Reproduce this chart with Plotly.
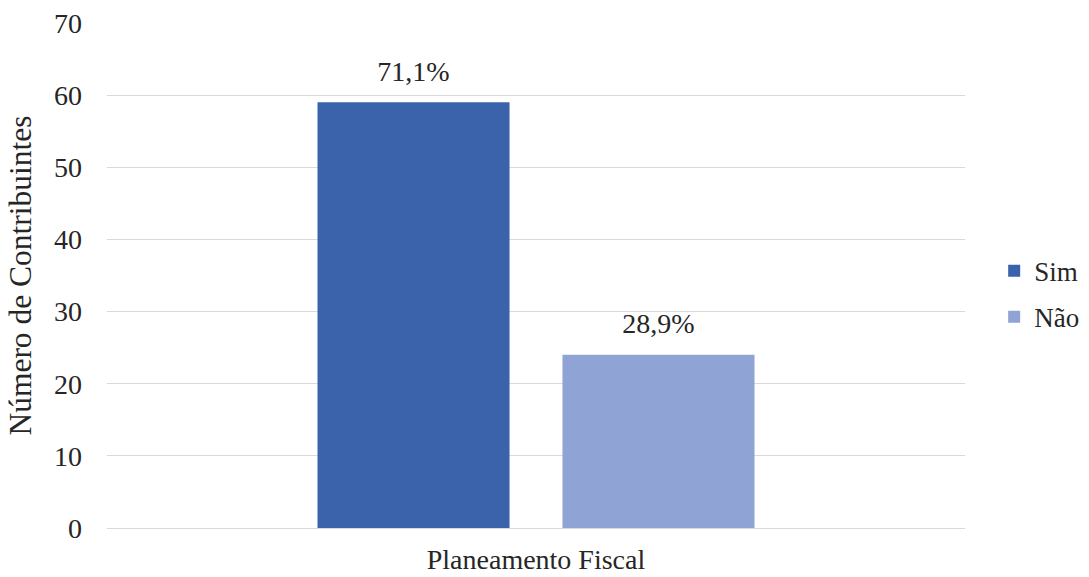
import plotly.graph_objects as go

categories = ["Planeamento Fiscal"]
series_names = ["Sim", "Não"]
series_values = [[59], [24]]
series_labels = ["71,1%", "28,9%"]
series_colors = ["#3A63AC", "#8FA4D5"]
y_ticks = [0, 10, 20, 30, 40, 50, 60, 70]

font_family = "Times New Roman, Liberation Serif, DejaVu Serif, serif"
text_color = "#262626"

fig = go.Figure()
for name, vals, col in zip(series_names, series_values, series_colors):
    fig.add_trace(go.Bar(
        x=categories, y=vals, name=name, legendgroup=name,
        offsetgroup=name, alignmentgroup="g",
        marker=dict(color=col, line=dict(width=0)),
    ))

# value labels, lifted above the bar tops by an invisible marker
for name, vals, lab in zip(series_names, series_values, series_labels):
    fig.add_trace(go.Scatter(
        x=categories, y=vals, mode="markers+text", text=[lab],
        textposition="top center", showlegend=False, hoverinfo="skip",
        offsetgroup=name, alignmentgroup="g", cliponaxis=False,
        marker=dict(size=22, opacity=0),
        textfont=dict(family=font_family, size=28, color=text_color),
    ))

fig.update_layout(
    width=1089, height=577,
    margin=dict(l=107, r=124, t=23, b=49, autoexpand=False),
    paper_bgcolor="white", plot_bgcolor="white",
    font=dict(family=font_family, size=27, color=text_color),
    barmode="group", bargap=0.429, bargroupgap=0.216,
    scattermode="group", scattergap=0.429,
    showlegend=True,
    legend=dict(x=1.034, y=0.463, xanchor="left", yanchor="middle",
                font=dict(family=font_family, size=27, color=text_color),
                tracegroupgap=8, itemwidth=30),
)
fig.update_yaxes(
    range=[0, 70], tickvals=y_ticks, showgrid=True, gridcolor="#d9d9d9", gridwidth=1,
    zeroline=False, showline=False, ticks="", ticklabelstandoff=24,
    tickfont=dict(family=font_family, size=28, color=text_color),
    title=dict(text="Número de Contribuintes", standoff=12,
               font=dict(family=font_family, size=31.5, color=text_color)),
)
fig.update_xaxes(
    showline=True, linecolor="#d9d9d9", linewidth=1, ticks="", ticklabelstandoff=6,
    tickfont=dict(family=font_family, size=28, color=text_color),
)

fig.write_html("out.html")
